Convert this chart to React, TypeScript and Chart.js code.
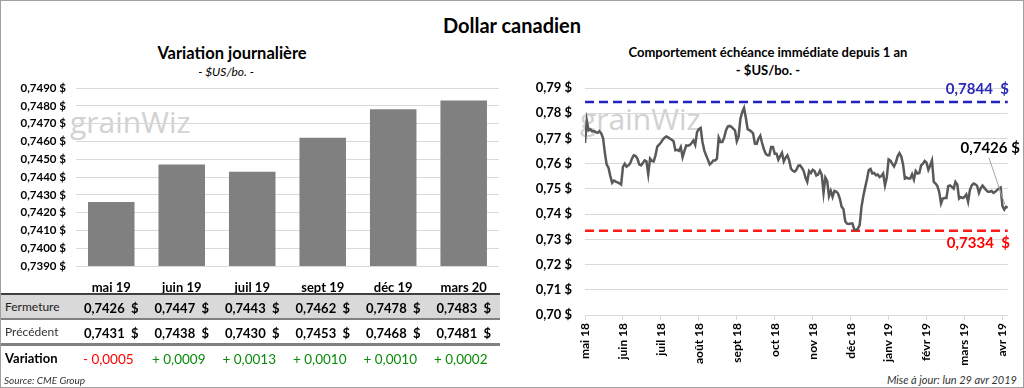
import React, { useEffect, useRef } from 'react';
import { Chart, registerables } from 'chart.js';

Chart.register(...registerables);

// ---------- Data ----------
const barCategories = ['mai 19', 'juin 19', 'juil 19', 'sept 19', 'déc 19', 'mars 20'];
const closeValues = [0.7426, 0.7447, 0.7443, 0.7462, 0.7478, 0.7483];
const previousValues = [0.7431, 0.7438, 0.743, 0.7453, 0.7468, 0.7481];
const changeValues = [-0.0005, 0.0009, 0.0013, 0.001, 0.001, 0.0002];
const barAxisMin = 0.739;
const barAxisMax = 0.749;
const barAxisStep = 0.001;

const monthLabels = ['mai 18', 'juin 18', 'juil 18', 'août 18', 'sept 18', 'oct 18', 'nov 18', 'déc 18', 'janv 19', 'févr 19', 'mars 19', 'avr 19'];
const daysPerMonthTick = 21;
const dailyClose = [
  0.7682, 0.7771, 0.7732, 0.7736, 0.7728, 0.7729, 0.7725, 0.7722, 0.7729, 0.772,
  0.7701, 0.7643, 0.7596, 0.7584, 0.7551, 0.7524, 0.7533, 0.7529, 0.7526, 0.7522,
  0.7517, 0.7587, 0.76, 0.7588, 0.7593, 0.7601, 0.762, 0.7633, 0.763, 0.762,
  0.7597, 0.7593, 0.7603, 0.7613, 0.7609, 0.7558, 0.762, 0.7611, 0.7609, 0.7633,
  0.7668, 0.7675, 0.7684, 0.7695, 0.7703, 0.7708, 0.7704, 0.7699, 0.7695, 0.7689,
  0.7653, 0.7655, 0.7651, 0.7666, 0.7626, 0.765, 0.7672, 0.7671, 0.7674, 0.7682,
  0.7692, 0.7675, 0.7725, 0.7737, 0.7742, 0.7686, 0.7653, 0.7633, 0.7616, 0.7597,
  0.7603, 0.7613, 0.7613, 0.762, 0.7703, 0.7686, 0.7686, 0.7703, 0.7732, 0.7747,
  0.775, 0.7746, 0.7739, 0.7732, 0.7689, 0.7708, 0.7778, 0.7804, 0.7821, 0.7782,
  0.7737, 0.7733, 0.7728, 0.772, 0.7679, 0.7678, 0.7699, 0.7711, 0.7682, 0.7657,
  0.7639, 0.7633, 0.7633, 0.7666, 0.7666, 0.7639, 0.7639, 0.7616, 0.763, 0.7643,
  0.7609, 0.7624, 0.7633, 0.7613, 0.758, 0.7572, 0.7568, 0.7576, 0.7592, 0.7593,
  0.7584, 0.7571, 0.7545, 0.7528, 0.7571, 0.7563, 0.7576, 0.7571, 0.7553, 0.7557,
  0.7572, 0.7557, 0.7484, 0.7545, 0.7532, 0.7471, 0.7492, 0.7468, 0.7492, 0.7489,
  0.7482, 0.7462, 0.7429, 0.742, 0.7372, 0.7362, 0.7361, 0.7363, 0.7363, 0.7339,
  0.7338, 0.7342, 0.7357, 0.7429, 0.7471, 0.7505, 0.7537, 0.7574, 0.7579, 0.7561,
  0.7563, 0.7554, 0.7557, 0.7547, 0.7551, 0.7561, 0.7514, 0.7545, 0.7617, 0.7612,
  0.76, 0.7589, 0.7604, 0.7629, 0.7642, 0.7629, 0.7597, 0.7541, 0.7545, 0.7541,
  0.7541, 0.7558, 0.7537, 0.7571, 0.7561, 0.7563, 0.7593, 0.76, 0.7611, 0.7604,
  0.7576, 0.7593, 0.7613, 0.7528, 0.7521, 0.7511, 0.7488, 0.7442, 0.7462, 0.7464,
  0.7464, 0.7511, 0.7514, 0.7508, 0.7501, 0.7528, 0.7518, 0.7462, 0.7468, 0.7464,
  0.7468, 0.7478, 0.7449, 0.7495, 0.7514, 0.7521, 0.7518, 0.7512, 0.7484, 0.7503,
  0.7513, 0.7504, 0.7495, 0.7489, 0.7489, 0.7492, 0.7484, 0.7489, 0.7495, 0.7501,
  0.7505, 0.7432, 0.7418, 0.7429, 0.7426,
];
const yearHigh = 0.7844;
const yearLow = 0.7334;
const lineAxisMin = 0.7;
const lineAxisMax = 0.79;
const lineAxisStep = 0.01;

// ---------- Helpers ----------
const FONT = 'Lato, "Liberation Sans", sans-serif';
const fr = (v: number, d: number) => v.toFixed(d).replace('.', ',');
const signed = (v: number) => (v < 0 ? '- ' : '+ ') + fr(Math.abs(v), 4);

const colCenterLeft = 75;
const colWidth = 70.5;

const refLabelsPlugin = {
  id: 'refLabels',
  afterDatasetsDraw(chart: any) {
    const { ctx, chartArea, scales } = chart;
    const y = scales.y;
    const x = scales.x;
    ctx.save();
    ctx.textAlign = 'right';
    ctx.textBaseline = 'middle';
    ctx.font = `bold 15px ${FONT}`;
    ctx.fillStyle = '#2929b8';
    ctx.fillText(fr(yearHigh, 4) + '  $', chartArea.right + 1, y.getPixelForValue(yearHigh) - 13);
    ctx.fillStyle = '#ff0000';
    ctx.fillText(fr(yearLow, 4) + '  $', chartArea.right + 2, y.getPixelForValue(yearLow) + 12);
    const lastIdx = dailyClose.length - 1;
    const last = dailyClose[lastIdx];
    const lx = x.getPixelForValue(lastIdx);
    const ly = y.getPixelForValue(last);
    ctx.strokeStyle = '#a6a6a6';
    ctx.lineWidth = 1;
    ctx.beginPath();
    ctx.moveTo(lx - 19, ly - 50);
    ctx.lineTo(lx - 3, ly - 3);
    ctx.stroke();
    ctx.fillStyle = '#000';
    ctx.font = `bold 15px ${FONT}`;
    ctx.fillText(fr(last, 4) + ' $', chartArea.right + 12, ly - 59);
    ctx.restore();
  },
};

export default function App() {
  const barRef = useRef<HTMLCanvasElement>(null);
  const lineRef = useRef<HTMLCanvasElement>(null);

  useEffect(() => {
    document.body.style.margin = '0';
    const bar = new Chart(barRef.current!, {
      type: 'bar',
      data: {
        labels: barCategories,
        datasets: [
          {
            data: closeValues,
            backgroundColor: '#808080',
            barPercentage: 0.66,
            categoryPercentage: 1,
          },
        ],
      },
      options: {
        animation: false,
        responsive: false,
        layout: { padding: { top: 12, right: 2, left: 0, bottom: 0 } },
        plugins: { legend: { display: false }, tooltip: { enabled: false } },
        scales: {
          x: {
            grid: { display: false, drawTicks: false },
            border: { display: false },
            ticks: { color: '#000', font: { family: FONT, size: 13, weight: 'bold' }, padding: 14 },
            afterFit: (s: any) => { s.height = 35; },
          },
          y: {
            min: barAxisMin,
            max: barAxisMax,
            grid: { color: '#d9d9d9', drawTicks: true, tickLength: 10, tickColor: 'rgba(0,0,0,0)' },
            border: { display: false },
            ticks: {
              stepSize: barAxisStep,
              color: '#000',
              padding: 0,
              font: { family: FONT, size: 11.5, weight: 'bold' },
              callback: (v: any) => fr(Number(v), 4) + ' $',
            },
            afterFit: (s: any) => { s.width = 75; },
          },
        },
      },
    } as any);

    const line = new Chart(lineRef.current!, {
      type: 'line',
      data: {
        datasets: [
          {
            data: dailyClose.map((v, i) => ({ x: i, y: v })),
            borderColor: '#595959',
            borderWidth: 2.5,
            pointRadius: 0,
            tension: 0,
          },
          {
            data: [{ x: 0, y: yearHigh }, { x: dailyClose.length - 1, y: yearHigh }],
            borderColor: '#2222c0',
            borderWidth: 2.5,
            borderDash: [9, 5],
            pointRadius: 0,
          },
          {
            data: [{ x: 0, y: yearLow }, { x: dailyClose.length - 1, y: yearLow }],
            borderColor: '#ff1a1a',
            borderWidth: 2.5,
            borderDash: [9, 5],
            pointRadius: 0,
          },
        ],
      },
      options: {
        animation: false,
        responsive: false,
        layout: { padding: { top: 12, right: 12, left: 0, bottom: 0 } },
        plugins: { legend: { display: false }, tooltip: { enabled: false } },
        scales: {
          x: {
            type: 'linear',
            min: 0,
            max: dailyClose.length - 1,
            grid: { drawOnChartArea: false, drawTicks: true, tickLength: 5, color: '#d9d9d9' },
            border: { display: true, color: '#d9d9d9' },
            ticks: {
              stepSize: daysPerMonthTick,
              includeBounds: false,
              autoSkip: false,
              maxRotation: 90,
              minRotation: 90,
              padding: 3,
              color: '#000',
              font: { family: FONT, size: 12, weight: 'bold' },
              callback: (v: any) => monthLabels[Math.round(Number(v) / daysPerMonthTick)] ?? '',
            },
            afterFit: (s: any) => { s.height = 50; },
          },
          y: {
            min: lineAxisMin,
            max: lineAxisMax,
            grid: { color: '#d9d9d9', drawTicks: true, tickLength: 13, tickColor: 'rgba(0,0,0,0)' },
            border: { display: false },
            ticks: {
              stepSize: lineAxisStep,
              color: '#000',
              padding: 0,
              font: { family: FONT, size: 13, weight: 'bold' },
              callback: (v: any) => fr(Number(v), 2) + ' $',
            },
            afterFit: (s: any) => { s.width = 65; },
          },
        },
      },
      plugins: [refLabelsPlugin],
    } as any);

    return () => {
      bar.destroy();
      line.destroy();
    };
  }, []);

  const abs = (style: React.CSSProperties): React.CSSProperties => ({ position: 'absolute', ...style });
  const watermark: React.CSSProperties = {
    position: 'absolute',
    fontFamily: '"Open Sans", sans-serif',
    fontSize: 30,
    color: '#d2d2d2',
    letterSpacing: 0,
    whiteSpace: 'pre',
  };
  const cell = (i: number, top: number, content: React.ReactNode, style: React.CSSProperties) => (
    <div
      key={top + '-' + i}
      style={abs({
        left: colCenterLeft + colWidth * i,
        width: colWidth,
        top,
        textAlign: 'center',
        whiteSpace: 'pre',
        lineHeight: '16px',
        ...style,
      })}
    >
      {content}
    </div>
  );

  return (
    <div
      style={{
        position: 'absolute',
        left: 0,
        top: 0,
        width: 1024,
        height: 388,
        boxSizing: 'border-box',
        border: '1px solid #a0a0a0',
        background: '#fff',
        overflow: 'hidden',
        fontFamily: FONT,
        color: '#000',
      }}
    >
      {/* main title */}
      <div style={abs({ left: 0, width: 1022, top: 11, textAlign: 'center', fontSize: 20, fontWeight: 'bold', lineHeight: '26px' })}>
        Dollar canadien
      </div>

      {/* left titles */}
      <div style={abs({ left: 131, width: 200, top: 42, textAlign: 'center', fontSize: 16.5, fontWeight: 'bold', lineHeight: '20px' })}>
        Variation journalière
      </div>
      <div style={abs({ left: 125, width: 200, top: 63, textAlign: 'center', fontSize: 12, fontStyle: 'italic', lineHeight: '16px' })}>
        - $US/bo. -
      </div>

      {/* right titles */}
      <div style={abs({ left: 567, width: 400, top: 43, textAlign: 'center', fontSize: 13, fontWeight: 'bold', lineHeight: '17px' })}>
        Comportement échéance immédiate depuis 1 an
      </div>
      <div style={abs({ left: 567, width: 400, top: 61, textAlign: 'center', fontSize: 13, fontWeight: 'bold', lineHeight: '17px' })}>
        - $US/bo. -
      </div>

      {/* watermarks */}
      <div style={{ ...watermark, left: 69, top: 100 }}>grainWiz</div>
      <div style={{ ...watermark, left: 579, top: 97 }}>grainWiz</div>

      {/* charts */}
      <canvas ref={barRef} width={500} height={225} style={abs({ left: 0, top: 75 })} />
      <canvas ref={lineRef} width={500} height={289} style={abs({ left: 519, top: 75 })} />

      {/* table */}
      <div style={abs({ left: 0, top: 294, width: 499, height: 24, background: '#d9d9d9' })} />
      <div style={abs({ left: 0, top: 292, width: 499, height: 2, background: '#404040' })} />
      <div style={abs({ left: 0, top: 317, width: 499, height: 2, background: '#808080' })} />
      <div style={abs({ left: 0, top: 342, width: 499, height: 3, background: '#808080' })} />

      <div style={abs({ left: 4, top: 298, fontSize: 12, lineHeight: '16px', color: '#222' })}>Fermeture</div>
      <div style={abs({ left: 4, top: 323, fontSize: 12, lineHeight: '16px', color: '#333' })}>Précédent</div>
      <div style={abs({ left: 4, top: 349, fontSize: 13, lineHeight: '16px', fontWeight: 'bold' })}>Variation</div>

      {closeValues.map((v, i) => cell(i, 299, fr(v, 4) + '  $', { fontSize: 13, fontWeight: 'bold' }))}
      {previousValues.map((v, i) => cell(i, 324, fr(v, 4) + '  $', { fontSize: 13, fontWeight: 'bold' }))}
      {changeValues.map((v, i) =>
        cell(i, 350, signed(v), { fontSize: 13.5, color: v < 0 ? '#ff0000' : '#0a8a0a', marginLeft: -3 })
      )}

      <div style={abs({ left: 3, top: 372, fontSize: 10, fontStyle: 'italic', lineHeight: '14px', color: '#333' })}>
        Source: CME Group
      </div>
      <div style={abs({ right: 6, top: 372, fontSize: 11, fontStyle: 'italic', lineHeight: '14px', color: '#333' })}>
        Mise à jour: lun 29 avr 2019
      </div>
    </div>
  );
}
